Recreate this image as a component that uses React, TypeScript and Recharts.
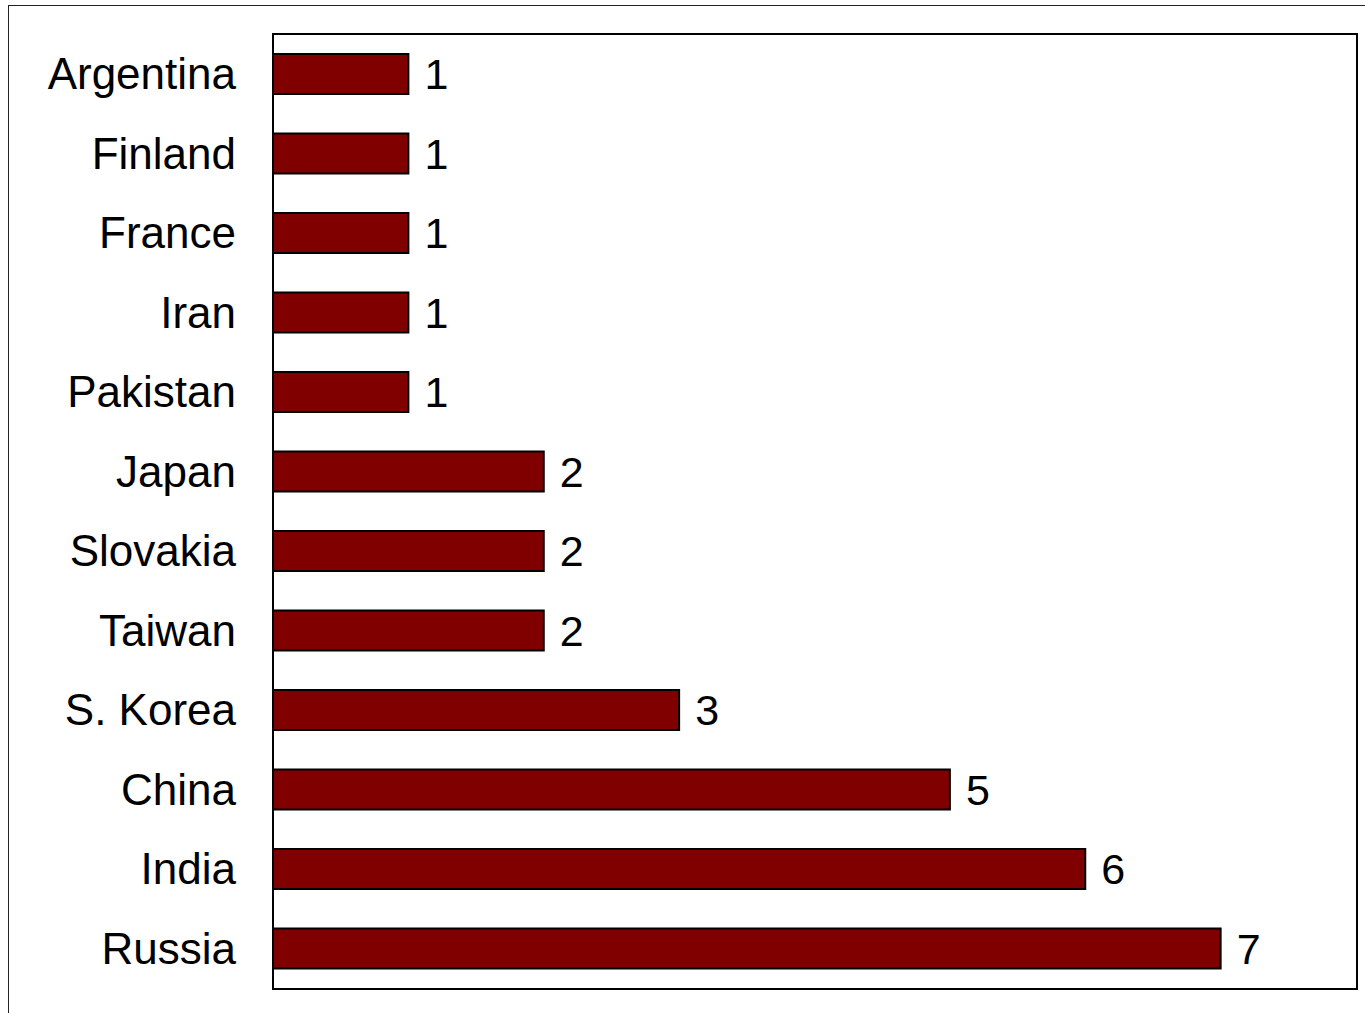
import React from 'react';
import { BarChart, Bar, XAxis, YAxis, LabelList } from 'recharts';

const countries = [
  'Argentina', 'Finland', 'France', 'Iran', 'Pakistan', 'Japan',
  'Slovakia', 'Taiwan', 'S. Korea', 'China', 'India', 'Russia',
];
const counts = [1, 1, 1, 1, 1, 2, 2, 2, 3, 5, 6, 7];

const data = countries.map((name, i) => ({ name, value: counts[i] }));

const FONT = '"Liberation Sans", Arial, sans-serif';

const App: React.FC = () => {
  return (
    <div style={{ position: 'absolute', left: 0, top: 0, width: 1365, height: 1013, background: '#fff', overflow: 'hidden', fontFamily: FONT }}>
      {/* outer frame, cut off right and bottom */}
      <div style={{ position: 'absolute', left: 8, top: 5, width: 1400, height: 1100, borderLeft: '1px solid #222', borderTop: '1px solid #222' }} />
      <div style={{ position: 'absolute', left: 0, top: 0 }}>
        <BarChart
          width={1365}
          height={1013}
          data={data}
          layout="vertical"
          margin={{ top: 34, right: 9, left: 0, bottom: 25 }}
          barCategoryGap={0}
        >
          <XAxis type="number" domain={[0, 8]} hide />
          <YAxis
            type="category"
            dataKey="name"
            width={273}
            tickLine={false}
            axisLine={false}
            tickSize={0}
            tickMargin={37}
            tick={{ fill: '#000', fontSize: 44, fontFamily: FONT }}
          />
          <Bar dataKey="value" fill="#800000" stroke="#000" strokeWidth={2} barSize={40} isAnimationActive={false}>
            <LabelList dataKey="value" position="right" offset={16} fill="#000" fontSize={43} fontFamily={FONT} />
          </Bar>
        </BarChart>
      </div>
      {/* plot area border */}
      <div style={{ position: 'absolute', left: 272, top: 33, width: 1082, height: 953, border: '2px solid #000', pointerEvents: 'none' }} />
    </div>
  );
};

export default App;
